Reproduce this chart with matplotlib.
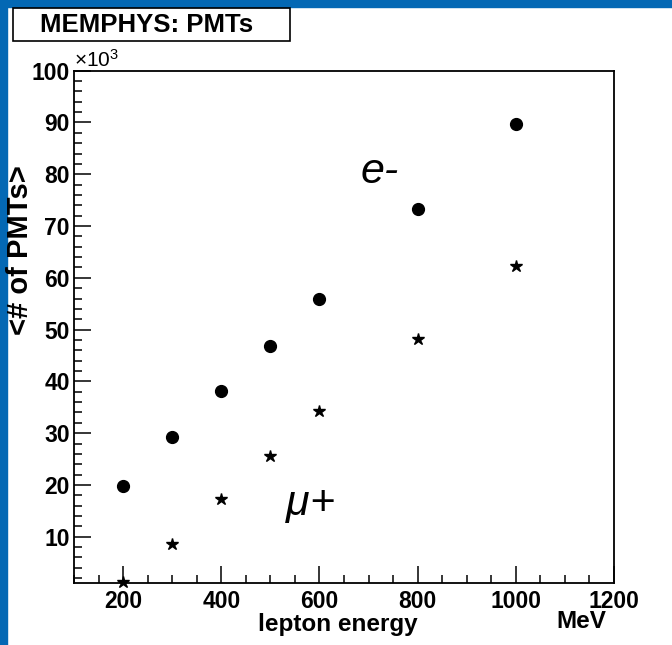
import matplotlib
matplotlib.use("Agg")
import matplotlib.pyplot as plt
from matplotlib.patches import Rectangle
from matplotlib.ticker import MultipleLocator

# lepton energy (MeV) and mean number of hit PMTs (x10^3)
energy_e = [200, 300, 400, 500, 600, 800, 1000]
pmts_e = [19.7, 29.2, 38.1, 46.8, 56.0, 73.3, 89.7]

energy_mu = [200, 300, 400, 500, 600, 800, 1000]
pmts_mu = [1.3, 8.5, 17.2, 25.6, 34.3, 48.1, 62.3]

xticks = [200, 400, 600, 800, 1000, 1200]
yticks = [10, 20, 30, 40, 50, 60, 70, 80, 90, 100]

blue = '#0468b4'
plt.rcParams['font.family'] = ['Liberation Sans', 'DejaVu Sans']
plt.rcParams['mathtext.fontset'] = 'custom'
plt.rcParams['mathtext.rm'] = 'Liberation Sans'
plt.rcParams['mathtext.it'] = 'Liberation Sans:italic'

W, H = 672, 645
fig = plt.figure(figsize=(W / 100, H / 100), dpi=100)
fig.patch.set_facecolor('white')

# slide background strips
fig.patches.append(Rectangle((0, 1 - 7 / H), 1, 7 / H, transform=fig.transFigure,
                             color=blue, zorder=0))
fig.patches.append(Rectangle((0, 0), 7 / W, 1, transform=fig.transFigure,
                             color=blue, zorder=0))

ax = fig.add_axes([74 / W, 1 - 583.3 / H, (614 - 74) / W, (583.3 - 70.7) / H])

ax.plot(energy_e, pmts_e, 'o', color='black', markersize=8.5, clip_on=False)
ax.plot(energy_mu, pmts_mu, '*', color='black', markersize=9, clip_on=False)

ax.set_xlim(100, 1200)
ax.set_ylim(1, 100)
ax.set_xticks(xticks)
ax.set_yticks(yticks)
ax.xaxis.set_minor_locator(MultipleLocator(50))
ax.yaxis.set_minor_locator(MultipleLocator(2))

for s in ['top', 'right', 'left', 'bottom']:
    ax.spines[s].set_linewidth(1.3)

ax.tick_params(which='both', direction='in', top=False, right=False, width=1.1)
ax.tick_params(which='major', length=12)
ax.tick_params(which='minor', length=6)
ax.tick_params(axis='y', pad=3)
ax.tick_params(axis='x', pad=5)
for lab in ax.get_xticklabels() + ax.get_yticklabels():
    lab.set_fontsize(16.5)
    lab.set_fontweight('bold')

ax.text(0.0, 1.0, r'$\times10^{3}$', transform=ax.transAxes, fontsize=15,
        ha='left', va='bottom')

fig.text(338 / W, 1 - 624 / H, 'lepton energy', fontsize=17.5, fontweight='bold',
         ha='center', va='center')
fig.text(606 / W, 1 - 622 / H, 'MeV', fontsize=17.5, fontweight='bold',
         ha='right', va='center')
fig.text(20 / W, 1 - 250 / H, '<# of PMTs>', fontsize=21, fontweight='bold',
         rotation=90, ha='center', va='center')

# curve labels
ax.text(380 / W, 1 - 172 / H, 'e-', transform=fig.transFigure, fontsize=31,
        style='italic', ha='center', va='center')
ax.text(310 / W, 1 - 505 / H, r'$\mu$+', transform=fig.transFigure, fontsize=31,
        style='italic', ha='center', va='center')

# title box
fig.text(40 / W, 1 - 25 / H, 'MEMPHYS: PMTs', fontsize=18.5, fontweight='bold',
         ha='left', va='center')
fig.patches.append(Rectangle((12.7 / W, 1 - 40.7 / H), (290 - 12.7) / W, 32.4 / H,
                             transform=fig.transFigure, fill=False,
                             edgecolor='black', linewidth=1.2))

fig.savefig('out.png', dpi=100)
